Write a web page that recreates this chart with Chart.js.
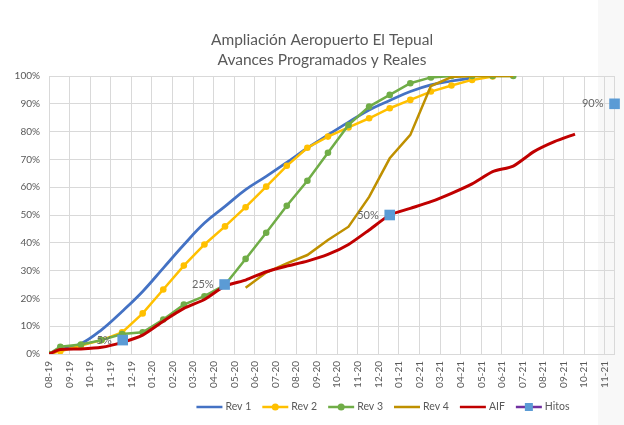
<!DOCTYPE html>
<html>
<head>
<meta charset="utf-8">
<script src="https://cdn.jsdelivr.net/npm/chart.js@4.4.1/dist/chart.umd.min.js"></script>
<style>
  html, body { margin: 0; padding: 0; background: #fff; }
  canvas { display: block; }
</style>
</head>
<body>
<canvas id="chart" width="624" height="425"></canvas>
<script>
// Data
const titleLines = ["Ampliación Aeropuerto El Tepual", "Avances Programados y Reales"];
const monthLabels = ["08-19", "09-19", "10-19", "11-19", "12-19", "01-20", "02-20", "03-20", "04-20", "05-20",
    "06-20", "07-20", "08-20", "09-20", "10-20", "11-20", "12-20", "01-21", "02-21", "03-21",
    "04-21", "05-21", "06-21", "07-21", "08-21", "09-21", "10-21", "11-21"];
// position of each data point on the month axis (0 = 08-19)
const pointPos = [0, 0.55, 1.55, 2.55, 3.55, 4.55, 5.55, 6.55, 7.55, 8.55, 9.55, 10.55, 11.55, 12.55,
    13.55, 14.55, 15.55, 16.55, 17.55, 18.55, 19.55, 20.55, 21.55, 22.55, 23.55, 24.55, 25.55];

const rev1 = [0, 1.5, 3.7, 8.7, 15.3, 22.5, 30.9, 39.3, 47.1, 53.1, 59.1, 63.9, 68.9, 74.1, 78.8, 83.4,
    87.8, 91.2, 94.4, 96.8, 98.2, 99.3];
const rev2 = [0, 1, 3, 5, 7.8, 14.6, 23.2, 31.8, 39.4, 45.9, 52.8, 60.2, 67.7, 74.2, 78.2, 81.5, 84.8,
    88.4, 91.4, 94.4, 96.6, 98.6, 99.8];
const rev3 = [0, 2.6, 3.4, 5, 7.2, 7.8, 12.4, 17.8, 20.8, 24.9, 34.2, 43.6, 53.3, 62.3, 72.4, 82.4, 89,
    93.2, 97.4, 99.5, 100, 100, 100, 100];
const rev4 = [null, null, null, null, null, null, null, null, null, null, 23.8, 29.3, 32.6, 35.6, 41,
    45.8, 56.5, 70.4, 78.8, 96.4, 99.6, 100, 100, 100];
const aif = [0, 1.6, 1.8, 2.4, 4.2, 6.8, 11.8, 16.4, 19.6, 24.5, 26.6, 29.6, 31.6, 33.4, 35.8, 39.4,
    44.6, 50, 52.4, 54.8, 57.8, 61.2, 65.6, 67.6, 72.8, 76.4, 79.1];
const hitosPos = [3.58, 8.53, 16.55, 27.47];
const hitosVal = [5, 25, 50, 90];

const gridColor = "#d9d9d9";
const textColor = "#595959";
const fontFamily = "Lato, 'Open Sans', sans-serif";

function toPoints(values, positions) {
    const pts = [];
    for (let i = 0; i < values.length; i++) {
        if (values[i] !== null) pts.push({ x: positions[i], y: values[i] });
    }
    return pts;
}

// Plugins
const background = {
    id: "background",
    beforeDraw(chart) {
        const ctx = chart.ctx;
        ctx.save();
        ctx.fillStyle = "#ffffff";
        ctx.fillRect(0, 0, chart.width, chart.height);
        ctx.fillStyle = "#f8f8f8";
        ctx.fillRect(598, 0, chart.width - 598, chart.height);
        ctx.restore();
    }
};

const titleText = {
    id: "titleText",
    afterDraw(chart) {
        const ctx = chart.ctx;
        ctx.save();
        ctx.font = "15.5px " + fontFamily;
        ctx.fillStyle = textColor;
        ctx.textAlign = "center";
        ctx.textBaseline = "middle";
        ctx.fillText(titleLines[0], 322, 40);
        ctx.fillText(titleLines[1], 322, 60);
        ctx.restore();
    }
};

const hitosLabels = {
    id: "hitosLabels",
    afterDatasetsDraw(chart) {
        const idx = chart.data.datasets.findIndex(d => d.label === "Hitos");
        const meta = chart.getDatasetMeta(idx);
        const ctx = chart.ctx;
        ctx.save();
        ctx.font = "11px " + fontFamily;
        ctx.fillStyle = "#666666";
        ctx.textAlign = "right";
        ctx.textBaseline = "middle";
        meta.data.forEach((el, i) => {
            ctx.fillText(hitosVal[i] + "%", el.x - 11, el.y);
        });
        ctx.restore();
    }
};

const lineLegend = {
    id: "lineLegend",
    afterDraw(chart) {
        const ctx = chart.ctx;
        const sets = chart.data.datasets;
        const lineLen = 26, gap = 3, spacing = 11;
        ctx.save();
        ctx.font = "10.5px " + fontFamily;
        let total = 0;
        const widths = sets.map(d => ctx.measureText(d.label).width);
        widths.forEach(w => total += lineLen + gap + w + spacing);
        total -= spacing;
        let x = 383 - total / 2;
        const y = 407;
        sets.forEach((d, i) => {
            ctx.strokeStyle = d.legendLine || d.borderColor;
            ctx.lineWidth = 2.5;
            ctx.beginPath();
            ctx.moveTo(x, y);
            ctx.lineTo(x + lineLen, y);
            ctx.stroke();
            if (d.pointRadius > 0) {
                ctx.fillStyle = d.pointBackgroundColor;
                if (d.pointStyle === "rect") {
                    ctx.fillRect(x + lineLen / 2 - 4, y - 4, 8, 8);
                } else {
                    ctx.beginPath();
                    ctx.arc(x + lineLen / 2, y, 3.5, 0, Math.PI * 2);
                    ctx.fill();
                }
            }
            ctx.fillStyle = textColor;
            ctx.textAlign = "left";
            ctx.textBaseline = "middle";
            ctx.fillText(d.label, x + lineLen + gap, y);
            x += lineLen + gap + widths[i] + spacing;
        });
        ctx.restore();
    }
};

// Chart
const ctx = document.getElementById("chart").getContext("2d");
new Chart(ctx, {
    type: "line",
    data: {
        datasets: [{
            label: "Rev 1",
            data: toPoints(rev1, pointPos),
            borderColor: "#4472C4",
            borderWidth: 2.75,
            pointRadius: 0,
            tension: 0.4,
            order: 5
        }, {
            label: "Rev 2",
            data: toPoints(rev2, pointPos),
            borderColor: "#FFC000",
            pointBackgroundColor: "#FFC000",
            pointBorderWidth: 0,
            borderWidth: 2.5,
            pointRadius: 3.3,
            tension: 0,
            order: 4
        }, {
            label: "Rev 3",
            data: toPoints(rev3, pointPos),
            borderColor: "#70AD47",
            pointBackgroundColor: "#70AD47",
            pointBorderWidth: 0,
            borderWidth: 2.5,
            pointRadius: 3.3,
            tension: 0,
            order: 3
        }, {
            label: "Rev 4",
            data: toPoints(rev4, pointPos),
            borderColor: "#BF9000",
            borderWidth: 2.5,
            pointRadius: 0,
            tension: 0,
            order: 2
        }, {
            label: "AIF",
            data: toPoints(aif, pointPos),
            borderColor: "#C00000",
            borderWidth: 3,
            pointRadius: 0,
            tension: 0.2,
            order: 1
        }, {
            label: "Hitos",
            data: toPoints(hitosVal, hitosPos),
            showLine: false,
            legendLine: "#7030A0",
            borderColor: "#5B9BD5",
            pointBackgroundColor: "#5B9BD5",
            pointBorderWidth: 0,
            pointStyle: "rect",
            pointRadius: 7.5,
            borderWidth: 0,
            clip: false,
            order: 0
        }]
    },
    options: {
        responsive: false,
        animation: false,
        layout: { padding: { top: 76, right: 8, left: 0, bottom: 0 } },
        plugins: {
            legend: { display: false },
            title: { display: false },
            tooltip: { enabled: false }
        },
        scales: {
            x: {
                type: "linear",
                min: 0,
                max: 27.45,
                afterFit: s => { s.height = 71; },
                grid: { color: gridColor, drawTicks: false },
                border: { color: gridColor },
                ticks: {
                    stepSize: 1,
                    includeBounds: false,
                    autoSkip: false,
                    minRotation: 90,
                    maxRotation: 90,
                    padding: 7,
                    color: textColor,
                    font: { family: fontFamily, size: 10 },
                    callback: v => Number.isInteger(v) ? monthLabels[v] : ""
                }
            },
            y: {
                min: 0,
                max: 100,
                afterFit: s => { s.width = 49; },
                grid: { color: gridColor, drawTicks: false },
                border: { color: gridColor },
                ticks: {
                    stepSize: 10,
                    padding: 9,
                    color: textColor,
                    font: { family: fontFamily, size: 10 },
                    callback: v => v + "%"
                }
            },
            y2: {
                position: "right",
                min: 0,
                max: 100,
                afterFit: s => { s.width = 0; },
                grid: { display: false },
                border: { color: gridColor },
                ticks: { display: false }
            }
        }
    },
    plugins: [background, titleText, hitosLabels, lineLegend]
});
</script>
</body>
</html>
